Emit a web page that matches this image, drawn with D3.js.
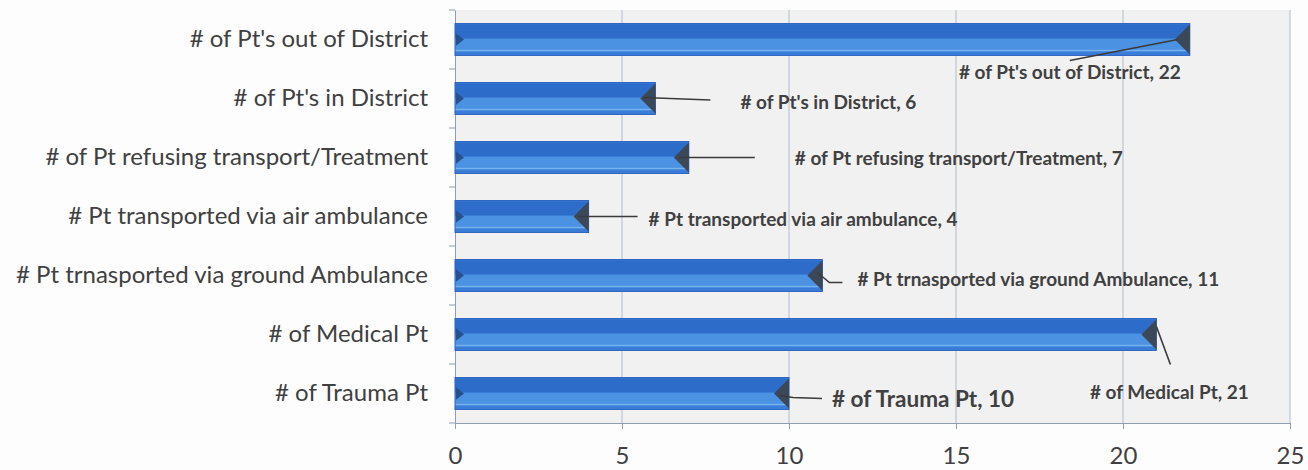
<!DOCTYPE html>
<html>
<head>
<meta charset="utf-8">
<script src="https://cdn.jsdelivr.net/npm/d3@7"></script>
<style>
  body { margin: 0; background: #fdfdfd; }
  svg { display: block; font-family: Lato, "Open Sans", sans-serif; }
</style>
</head>
<body>
<svg id="chart" width="1308" height="470"></svg>
<script>
// categories, top to bottom as in the picture
const categories = [
  "# of Pt's out of District",
  "# of Pt's in District",
  "# of Pt refusing transport/Treatment",
  "# Pt transported via air ambulance",
  "# Pt trnasported via ground Ambulance",
  "# of Medical Pt",
  "# of Trauma Pt"
];
const values = [22, 6, 7, 4, 11, 21, 10];
const xTicks = [0, 5, 10, 15, 20, 25];

// where each data label sits, relative to the end of its bar (layout only)
const labelPos = [
  { dx: -120, dy: 39, anchor: "middle", lead: [[-12, 0], [-120, 21]] },
  { dx: 85, dy: 10, anchor: "start", lead: [[-12, -1], [55, 1.5]] },
  { dx: 106, dy: 7.5, anchor: "start", lead: [[-10, 0], [66, 0]] },
  { dx: 60, dy: 9.5, anchor: "start", lead: [[-10, 0], [49, 0]] },
  { dx: 35, dy: 10.5, anchor: "start", lead: [[-5, -3], [7, 7], [20, 7]] },
  { dx: 13, dy: 64.5, anchor: "middle", lead: [[0, -8], [14, 30]] },
  { dx: 43, dy: 13.5, anchor: "start", lead: [[-10, 2], [4, 4], [33, 5]], big: true }
];

const svg = d3.select("#chart");
const plotLeft = 455, plotRight = 1290, plotTop = 10, plotBottom = 423;

const x = d3.scaleLinear().domain([0, 25]).range([plotLeft, plotRight]);
const y = d3.scaleBand().domain(categories).range([plotTop, plotBottom])
  .paddingInner(0.46).paddingOuter(0.23);

// plot area background
svg.append("rect")
  .attr("x", plotLeft).attr("y", plotTop)
  .attr("width", plotRight - plotLeft).attr("height", plotBottom - plotTop)
  .attr("fill", "#f1f1f1");

// vertical gridlines
svg.selectAll(".grid")
  .data(xTicks.slice(1))
  .enter().append("line")
  .attr("x1", d => x(d)).attr("x2", d => x(d))
  .attr("y1", plotTop).attr("y2", plotBottom)
  .attr("stroke", "#aebccb").attr("stroke-width", 1);

// axes
const xAxis = svg.append("g")
  .attr("transform", `translate(0,${plotBottom})`)
  .call(d3.axisBottom(x).tickValues(xTicks).tickSize(6).tickPadding(18));
const yAxis = svg.append("g")
  .attr("transform", `translate(${plotLeft},0)`)
  .call(d3.axisLeft(y).tickSize(0).tickPadding(27));

xAxis.attr("font-family", null);
yAxis.attr("font-family", null);
xAxis.select(".domain").attr("stroke", "#8e9db0");
xAxis.selectAll(".tick line").attr("stroke", "#8e9db0");
xAxis.selectAll(".tick text")
  .attr("fill", "#404040").style("font-size", "24px");

yAxis.select(".domain").attr("stroke", "#8e9db0");
yAxis.selectAll(".tick text")
  .attr("fill", "#404040").style("font-size", "24px");

// category separators on the left axis
svg.selectAll(".ytick")
  .data(d3.range(categories.length + 1))
  .enter().append("line")
  .attr("x1", plotLeft - 6).attr("x2", plotLeft)
  .attr("y1", i => plotTop + i * y.step()).attr("y2", i => plotTop + i * y.step())
  .attr("stroke", "#8e9db0");

// bars with a bevelled look
const bw = y.bandwidth();
const bars = svg.selectAll(".bar")
  .data(categories)
  .enter().append("g")
  .attr("class", "bar");

bars.append("rect")
  .attr("x", plotLeft).attr("y", d => y(d))
  .attr("width", (d, i) => x(values[i]) - plotLeft).attr("height", bw)
  .attr("fill", "#3a7dd8");
bars.append("rect")
  .attr("x", plotLeft).attr("y", d => y(d) + 1)
  .attr("width", (d, i) => x(values[i]) - plotLeft).attr("height", bw * 0.46)
  .attr("fill", "#2e6cca");
bars.append("rect")
  .attr("x", plotLeft).attr("y", d => y(d) + bw * 0.47)
  .attr("width", (d, i) => x(values[i]) - plotLeft).attr("height", bw * 0.42)
  .attr("fill", "#4b92e2");
bars.append("line")
  .attr("x1", plotLeft).attr("x2", (d, i) => x(values[i]))
  .attr("y1", d => y(d) + bw * 0.84).attr("y2", d => y(d) + bw * 0.84)
  .attr("stroke", "#8fc2f3").attr("stroke-width", 1).attr("opacity", 0.8);
bars.append("rect")
  .attr("x", plotLeft).attr("y", d => y(d))
  .attr("width", (d, i) => x(values[i]) - plotLeft).attr("height", bw)
  .attr("fill", "none").attr("stroke", "#2a62bd").attr("stroke-width", 1);
// end caps
bars.append("polygon")
  .attr("points", (d, i) => {
    const xe = x(values[i]), y0 = y(d);
    return [[xe, y0 + 1], [xe, y0 + bw - 1], [xe - 15, y0 + bw / 2]].join(" ");
  })
  .attr("fill", "#3c4858");
bars.append("polygon")
  .attr("points", d => {
    const y0 = y(d);
    return [[plotLeft + 1, y0 + bw * 0.3], [plotLeft + 9, y0 + bw / 2], [plotLeft + 1, y0 + bw * 0.7]].join(" ");
  })
  .attr("fill", "#27508f");

// data labels with leader lines
const line = d3.line();
categories.forEach((c, i) => {
  const xe = x(values[i]), cy = y(c) + bw / 2, p = labelPos[i];
  svg.append("path")
    .attr("d", line(p.lead.map(([a, b]) => [xe + a, cy + b])))
    .attr("fill", "none").attr("stroke", "#3a3a3a").attr("stroke-width", 1.6);
  svg.append("text")
    .attr("x", xe + p.dx).attr("y", cy + p.dy)
    .attr("text-anchor", p.anchor)
    .attr("fill", "#404040")
    .style("font-weight", "bold")
    .style("font-size", p.big ? "22.5px" : "19px")
    .text(`${c}, ${values[i]}`);
});
</script>
</body>
</html>
